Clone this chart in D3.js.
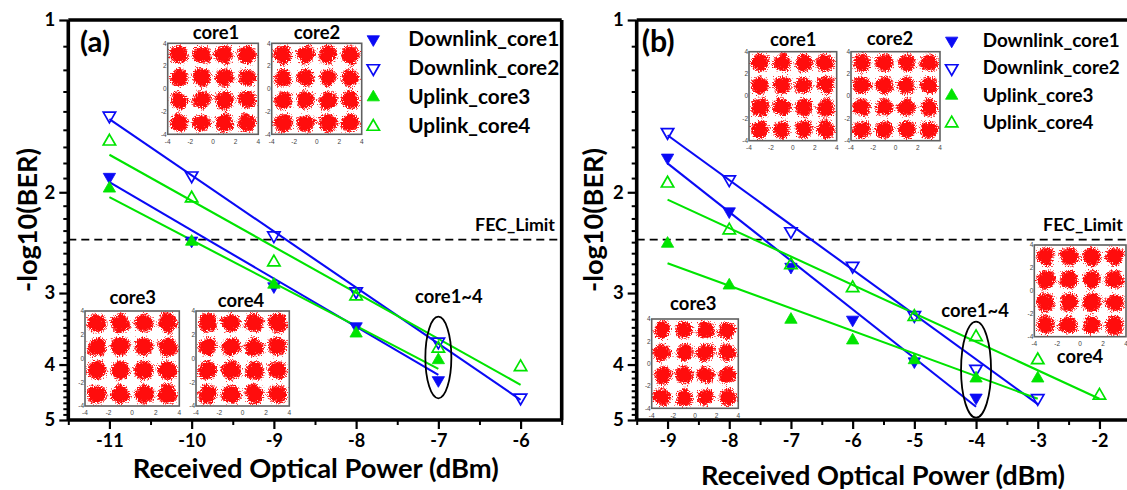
<!DOCTYPE html>
<html><head><meta charset="utf-8">
<script src="https://cdn.jsdelivr.net/npm/d3@7"></script>
<style>body{margin:0;background:#fff}svg{display:block}</style>
</head><body><svg id="c" width="1127" height="490"></svg>
<script>
// ---------------- data ----------------
const yTicks = [1, 2, 3, 4, 5];
const xTicksA = [-11, -10, -9, -8, -7, -6];
const xTicksB = [-9, -8, -7, -6, -5, -4, -3, -2];
const seriesNames = ["Downlink_core1", "Downlink_core2", "Uplink_core3", "Uplink_core4"];
const fecLimit = 2.42;

// panel (a) measured points
const aX_core1 = [-11, -10, -9, -8, -7];
const aY_core1 = [1.88, 2.43, 2.92, 3.43, 4.26];
const aX_core2 = [-11, -10, -9, -8, -7, -6];
const aY_core2 = [1.47, 1.87, 2.38, 2.98, 3.65, 4.57];
const aX_core3 = [-11, -10, -9, -8, -7];
const aY_core3 = [1.97, 2.44, 2.90, 3.53, 3.93];
const aX_core4 = [-11, -10, -9, -8, -7, -6];
const aY_core4 = [1.63, 2.05, 2.65, 3.04, 3.75, 4.04];
// panel (a) fitted lines (start, end)
const aFitX = [[-11, -7], [-11, -6], [-11, -7], [-11, -6]];
const aFitY = [[1.92, 4.17], [1.49, 4.61], [2.04, 4.07], [1.72, 4.34]];

// panel (b) measured points
const bX_core1 = [-9, -8, -7, -6, -5, -4];
const bY_core1 = [1.74, 2.16, 2.70, 3.34, 3.95, 4.57];
const bX_core2 = [-9, -8, -7, -6, -5, -4, -3];
const bY_core2 = [1.57, 1.90, 2.34, 2.69, 3.28, 4.07, 4.58];
const bX_core3 = [-9, -8, -7, -6, -5, -4, -3];
const bY_core3 = [2.46, 2.91, 3.34, 3.63, 3.93, 4.23, 4.23];
const bX_core4 = [-9, -8, -7, -6, -5, -4, -3, -2];
const bY_core4 = [1.93, 2.33, 2.68, 2.94, 3.30, 3.58, 3.93, 4.53];
// panel (b) fitted lines
const bFitX = [[-9, -4], [-9, -3], [-9, -3], [-9, -2]];
const bFitY = [[1.78, 4.74], [1.59, 4.69], [2.66, 4.59], [2.06, 4.59]];

// constellation insets (16-QAM)
const qamLevels = [-3, -1, 1, 3];
const insetTicks = [-4, -2, 0, 2, 4];
const insetNames = ["core1", "core2", "core3", "core4"];

// ---------------- styles / layout ----------------
const FONT = "Lato, 'Open Sans', sans-serif";
const BLUE = "#0a0af5", GREEN = "#00e400";
const styles = [
  {color: BLUE, filled: true, down: true},
  {color: BLUE, filled: false, down: true},
  {color: GREEN, filled: true, down: false},
  {color: GREEN, filled: false, down: false}
];

const svg = d3.select("#c");
const defs = svg.append("defs");
const y = d3.scaleLog().domain([1, 5]).range([20, 420]);

function fit(sel, w) {
  sel.each(function () {
    const base = parseFloat(this.getAttribute("font-size"));
    const len = this.getComputedTextLength();
    if (len > 0) this.setAttribute("font-size", (base * w / len).toFixed(2));
  });
  return sel;
}
function txt(g, s, x0, y0, size, anchor) {
  return g.append("text").attr("x", x0).attr("y", y0).attr("dy", "0.35em")
    .attr("font-family", FONT).attr("font-weight", 700).attr("font-size", size)
    .attr("text-anchor", anchor || "middle").attr("fill", "#000").text(s);
}
const sym = d3.symbol().type(d3.symbolTriangle).size(66);
function marker(g, cx, cy, st) {
  g.append("path").attr("d", sym())
    .attr("transform", `translate(${cx},${cy}) rotate(${st.down ? 180 : 0})`)
    .attr("fill", st.filled ? st.color : "none")
    .attr("stroke", st.color).attr("stroke-width", st.filled ? 0.8 : 1.7);
}

let fcount = 0;
function drawInset(g, name, box, label) {
  const [bx, by, w, h] = box;
  const id = fcount++;
  const sx = d3.scaleLinear().domain([-4, 4]).range([bx, bx + w]);
  const sy = d3.scaleLinear().domain([-4, 4]).range([by + h, by]);
  g.append("rect").attr("x", bx).attr("y", by).attr("width", w).attr("height", h).attr("fill", "#fff");
  defs.append("clipPath").attr("id", "ic" + id).append("rect")
    .attr("x", bx).attr("y", by).attr("width", w).attr("height", h);
  const f = defs.append("filter").attr("id", "rf" + id)
    .attr("x", "-10%").attr("y", "-10%").attr("width", "120%").attr("height", "120%");
  f.append("feTurbulence").attr("type", "fractalNoise").attr("baseFrequency", 0.16)
    .attr("numOctaves", 1).attr("seed", 11 + id * 7).attr("result", "n0");
  f.append("feDisplacementMap").attr("in", "SourceGraphic").attr("in2", "n0").attr("scale", 7)
    .attr("xChannelSelector", "R").attr("yChannelSelector", "G").attr("result", "s");
  f.append("feGaussianBlur").attr("in", "s").attr("stdDeviation", 1.6).attr("result", "b");
  f.append("feTurbulence").attr("type", "fractalNoise").attr("baseFrequency", 0.8)
    .attr("numOctaves", 2).attr("seed", 3 + id * 5).attr("result", "n");
  f.append("feDisplacementMap").attr("in", "b").attr("in2", "n").attr("scale", 9)
    .attr("xChannelSelector", "R").attr("yChannelSelector", "G").attr("result", "d");
  f.append("feComponentTransfer").attr("in", "d")
    .append("feFuncA").attr("type", "table").attr("tableValues", "0 0 0.7 1 1");
  const pts = [];
  qamLevels.forEach(i => qamLevels.forEach(q => pts.push([i, q])));
  g.append("g").attr("clip-path", `url(#ic${id})`)
    .append("g").attr("filter", `url(#rf${id})`)
    .selectAll("circle").data(pts).join("circle")
    .attr("cx", d => sx(d[0])).attr("cy", d => sy(d[1]))
    .attr("r", (sx(0.8) - sx(0))).attr("fill", "#ff0a0a");
  g.append("rect").attr("x", bx).attr("y", by).attr("width", w).attr("height", h)
    .attr("fill", "none").attr("stroke", "#606060").attr("stroke-width", 1.6);
  g.selectAll(null).data(insetTicks).join("text")
    .attr("x", bx - 1).attr("y", d => sy(d)).attr("dy", "0.35em").attr("text-anchor", "end")
    .attr("font-family", "Liberation Sans, sans-serif").attr("font-size", 6.5).attr("fill", "#444").text(d => d);
  g.selectAll(null).data(insetTicks).join("text")
    .attr("x", d => sx(d)).attr("y", by + h + 7).attr("dy", "0.35em").attr("text-anchor", "middle")
    .attr("font-family", "Liberation Sans, sans-serif").attr("font-size", 6.5).attr("fill", "#444").text(d => d);
  fit(txt(g, name, label[0], label[1], 17), 46.5);
}

function drawPanel(P) {
  const x = d3.scaleLinear().domain(P.dom).range([P.x0, P.x1]);
  const g = svg.append("g");
  const xr = Math.min(P.x1, 1127);

  // insets (behind data)
  P.insets.forEach((ins, i) => drawInset(g, insetNames[i], ins.box, ins.label));

  // y minor ticks
  const yMinor = [];
  for (let n = 1; n < 5; n++) for (let k = 1; k < 9; k++) yMinor.push(n + k / 9);
  const ym = g.append("g").attr("transform", `translate(${P.x0},0)`)
    .call(d3.axisLeft(y).tickValues(yMinor).tickSize(5).tickFormat(""));
  ym.select(".domain").remove();
  ym.selectAll("line").attr("stroke-width", 2);
  const ya = g.append("g").attr("transform", `translate(${P.x0},0)`)
    .call(d3.axisLeft(y).tickValues(yTicks).tickSize(9).tickPadding(4).tickFormat(d3.format("d")));
  ya.select(".domain").remove();
  ya.selectAll("line").attr("stroke-width", 2.2);
  ya.attr("font-family", FONT).attr("font-size", 18.5).attr("font-weight", 700);
  ya.selectAll("text").attr("fill", "#000");

  // x ticks
  const xMinor = d3.range(P.dom[0], P.dom[1] + 0.001, 0.5).filter(v => !Number.isInteger(v));
  const xm = g.append("g").attr("transform", `translate(0,420)`)
    .call(d3.axisBottom(x).tickValues(xMinor).tickSize(5).tickFormat(""));
  xm.select(".domain").remove();
  xm.selectAll("line").attr("stroke-width", 2);
  const xa = g.append("g").attr("transform", `translate(0,420)`)
    .call(d3.axisBottom(x).tickValues(P.ticks).tickSize(9).tickFormat(d3.format("d")));
  xa.select(".domain").remove();
  xa.selectAll("line").attr("stroke-width", 2.2);
  xa.attr("font-family", FONT).attr("font-size", 18).attr("font-weight", 700);
  xa.selectAll("text").attr("fill", "#000").attr("y", 21).attr("dy", "0.35em")
    .text(d => d3.format("d")(d).replace("\u2212", "-"));

  // frame
  const fr = g.append("g").attr("stroke", "#000").attr("stroke-width", 3.6).attr("fill", "none");
  fr.append("line").attr("x1", P.x0).attr("x2", P.x0).attr("y1", 20).attr("y2", 420);
  fr.append("line").attr("x1", P.x0).attr("x2", xr).attr("y1", 420).attr("y2", 420);
  fr.append("line").attr("x1", P.x0).attr("x2", xr).attr("y1", 20).attr("y2", 20);
  if (P.x1 <= 1127) fr.append("line").attr("x1", P.x1).attr("x2", P.x1).attr("y1", 20).attr("y2", 420);

  // FEC limit
  g.append("line").attr("x1", P.x0).attr("x2", xr).attr("y1", y(fecLimit)).attr("y2", y(fecLimit))
    .attr("stroke", "#000").attr("stroke-width", 1.8).attr("stroke-dasharray", "8,5");
  fit(txt(g, "FEC_Limit", P.fec[0], P.fec[1], 16, "end"), 80);

  // fitted lines
  P.fitX.forEach((fx, i) => {
    g.append("line").attr("x1", x(fx[0])).attr("x2", x(fx[1]))
      .attr("y1", y(P.fitY[i][0])).attr("y2", y(P.fitY[i][1]))
      .attr("stroke", styles[i].color).attr("stroke-width", 2.1);
  });
  // markers
  P.series.forEach((s, i) => {
    s.xs.forEach((xv, j) => marker(g, x(xv), y(s.ys[j]), styles[i]));
  });

  // ellipse + label
  g.append("ellipse").attr("cx", x(P.ell.x)).attr("cy", P.ell.cy).attr("rx", P.ell.rx).attr("ry", P.ell.ry)
    .attr("fill", "none").attr("stroke", "#000").attr("stroke-width", 1.8);
  fit(txt(g, "core1~4", P.ell.tx, P.ell.ty, 16), 67.7);

  // legend
  const lt = [];
  seriesNames.forEach((nm, i) => {
    marker(g, P.leg.mx, P.leg.rows[i], styles[i]);
    lt.push(txt(g, nm, P.leg.tx, P.leg.rows[i] - 0.7, 18, "start"));
  });
  const len = lt[0].node().getComputedTextLength();
  const fs = 18 * P.leg.w / len;
  lt.forEach(t => t.attr("font-size", fs.toFixed(2)));

  // panel label
  fit(txt(g, P.label, P.lab[0], P.lab[1], 24, "start"), P.lab[2]);

  // axis titles
  const yt = g.append("text").attr("transform", `translate(${P.yt[0]},${P.yt[1]}) rotate(-90)`)
    .attr("dy", "0.35em").attr("text-anchor", "middle").attr("font-family", FONT)
    .attr("font-weight", 700).attr("font-size", 25).attr("fill", "#000").text("-log10(BER)");
  fit(yt, 144);
  fit(txt(g, "Received Optical Power (dBm)", P.xt[0], P.xt[1], 26), P.xt[2]);
}

drawPanel({
  label: "(a)", lab: [80, 41.7, 30],
  x0: 68.3, x1: 561.7, dom: [-11.5, -5.5], ticks: xTicksA,
  series: [{xs: aX_core1, ys: aY_core1}, {xs: aX_core2, ys: aY_core2},
           {xs: aX_core3, ys: aY_core3}, {xs: aX_core4, ys: aY_core4}],
  fitX: aFitX, fitY: aFitY,
  fec: [555, 224.3],
  ell: {x: -7, cy: 357.5, rx: 13, ry: 40.8, tx: 448.8, ty: 296.7},
  leg: {mx: 373.3, tx: 408.3, rows: [39.3, 68.3, 97.3, 126.7], w: 151},
  yt: [27, 220], xt: [315.7, 468, 366],
  insets: [
    {box: [167.7, 43.3, 90.6, 91], label: [216, 32.5]},
    {box: [271.7, 43.3, 90, 91], label: [317, 32.5]},
    {box: [85, 311, 94.3, 95], label: [132.7, 298]},
    {box: [196, 311, 93.3, 95], label: [241, 301]}
  ]
});
drawPanel({
  label: "(b)", lab: [641.7, 41.7, 33],
  x0: 636.7, x1: 1130.3, dom: [-9.5, -1.5], ticks: xTicksB,
  series: [{xs: bX_core1, ys: bY_core1}, {xs: bX_core2, ys: bY_core2},
           {xs: bX_core3, ys: bY_core3}, {xs: bX_core4, ys: bY_core4}],
  fitX: bFitX, fitY: bFitY,
  fec: [1123, 225],
  ell: {x: -4, cy: 369.7, rx: 15, ry: 48, tx: 975, ty: 311},
  leg: {mx: 951.7, tx: 982.7, rows: [40.7, 68.3, 95.7, 123.3], w: 137},
  yt: [593.3, 220], xt: [883, 475, 364],
  insets: [
    {box: [749, 51.7, 87.7, 89], label: [793.3, 40]},
    {box: [851, 51.7, 89, 89], label: [890, 38.3]},
    {box: [651.7, 319, 86.6, 89.3], label: [693.3, 303.8]},
    {box: [1034.3, 245, 91.7, 91.7], label: [1080, 356.7]}
  ]
});
</script></body></html>
